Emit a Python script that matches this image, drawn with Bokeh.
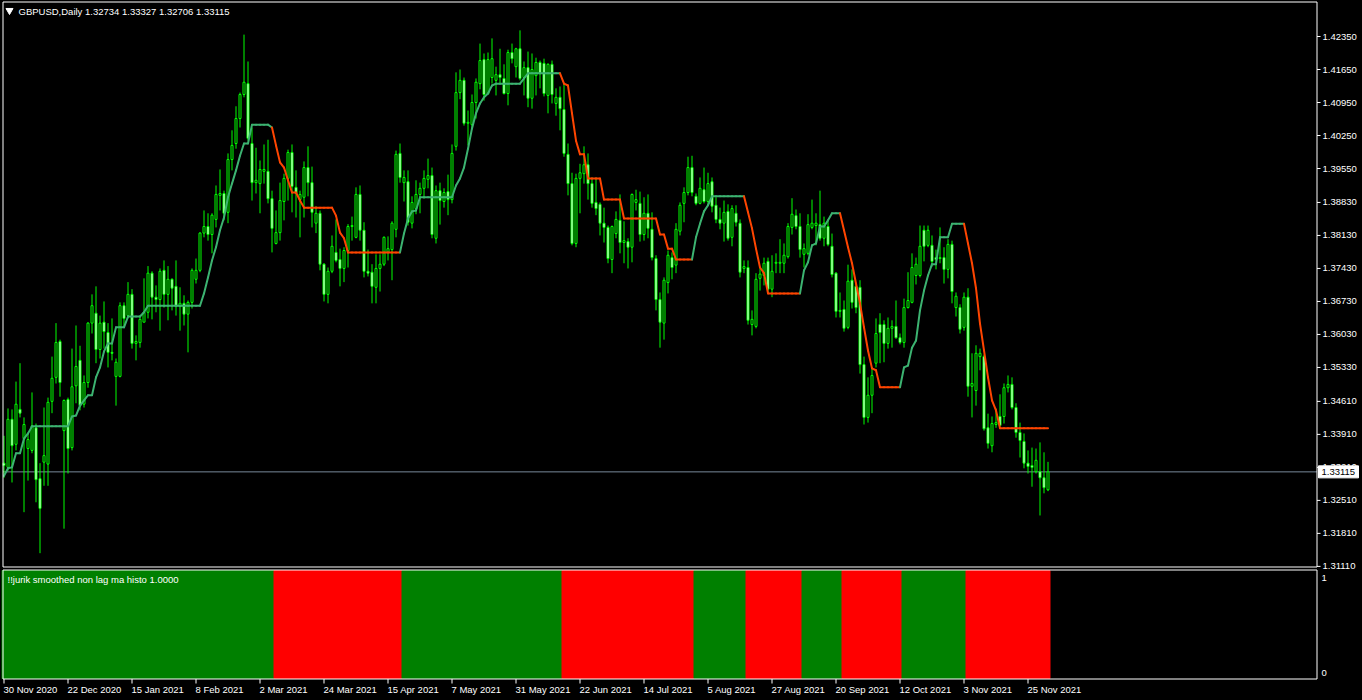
from bokeh.plotting import figure
from bokeh.models import Range1d, ColumnDataSource, GlobalInlineStyleSheet
from bokeh.core.properties import value
from bokeh.embed import file_html
from bokeh.resources import INLINE

# ---------------- data ----------------
SYMBOL = "GBPUSD"
TIMEFRAME = "Daily"
INDICATOR_NAME = "!!jurik smoothed non lag ma histo 1.0000"

OPEN = [
    1.3330, 1.3321, 1.3423, 1.3370, 1.3444, 1.3382, 1.3361, 1.3357, 1.3405, 1.3297,
    1.3332, 1.3328, 1.3461, 1.3512, 1.3588, 1.3399, 1.3465, 1.3363, 1.3494, 1.3548,
    1.3455, 1.3501, 1.3627, 1.3648, 1.3571, 1.3629, 1.3607, 1.3565, 1.3514, 1.3514,
    1.3664, 1.3643, 1.3688, 1.3584, 1.3586, 1.3629, 1.3650, 1.3733, 1.3682, 1.3677,
    1.3739, 1.3688, 1.3720, 1.3705, 1.3662, 1.3669, 1.3646, 1.3671, 1.3720, 1.3739,
    1.3818, 1.3832, 1.3815, 1.3847, 1.3898, 1.3902, 1.3862, 1.3974, 1.4008, 1.4061,
    1.4112, 1.4135, 1.4008, 1.3925, 1.3923, 1.3949, 1.3949, 1.3891, 1.3796, 1.3819,
    1.3885, 1.3934, 1.3989, 1.3915, 1.3889, 1.3894, 1.3957, 1.3925, 1.3839, 1.3860,
    1.3752, 1.3688, 1.3737, 1.3777, 1.3762, 1.3743, 1.3781, 1.3832, 1.3809, 1.3900,
    1.3824, 1.3737, 1.3735, 1.3703, 1.3743, 1.3752, 1.3777, 1.3783, 1.3826, 1.3987,
    1.3925, 1.3927, 1.3839, 1.3870, 1.3900, 1.3913, 1.3932, 1.3940, 1.3807, 1.3908,
    1.3885, 1.3906, 1.3889, 1.4002, 1.4116, 1.4142, 1.4051, 1.4048, 1.4095, 1.4135,
    1.4186, 1.4114, 1.4148, 1.4142, 1.4154, 1.4146, 1.4114, 1.4201, 1.4171, 1.4209,
    1.4148, 1.4169, 1.4104, 1.4152, 1.4180, 1.4178, 1.4110, 1.4176, 1.4093, 1.4106,
    1.4080, 1.3985, 1.3923, 1.3796, 1.3934, 1.3944, 1.3963, 1.3923, 1.3883, 1.3879,
    1.3839, 1.3830, 1.3762, 1.3817, 1.3845, 1.3798, 1.3800, 1.3788, 1.3883, 1.3881,
    1.3815, 1.3860, 1.3826, 1.3764, 1.3677, 1.3627, 1.3713, 1.3766, 1.3750, 1.3822,
    1.3881, 1.3904, 1.3957, 1.3896, 1.3881, 1.3910, 1.3885, 1.3927, 1.3877, 1.3847,
    1.3839, 1.3864, 1.3809, 1.3860, 1.3839, 1.3743, 1.3745, 1.3624, 1.3620, 1.3722,
    1.3728, 1.3758, 1.3699, 1.3754, 1.3754, 1.3754, 1.3768, 1.3830, 1.3855, 1.3832,
    1.3773, 1.3775, 1.3830, 1.3834, 1.3836, 1.3807, 1.3832, 1.3790, 1.3733, 1.3652,
    1.3656, 1.3618, 1.3718, 1.3705, 1.3703, 1.3539, 1.3427, 1.3474, 1.3542, 1.3624,
    1.3624, 1.3584, 1.3616, 1.3620, 1.3596, 1.3586, 1.3660, 1.3671, 1.3728, 1.3728,
    1.3824, 1.3792, 1.3792, 1.3766, 1.3764, 1.3766, 1.3741, 1.3794, 1.3660, 1.3660,
    1.3618, 1.3682, 1.3493, 1.3484, 1.3556, 1.3556, 1.3405, 1.3367, 1.3412, 1.3429,
    1.3429, 1.3490, 1.3497, 1.3448, 1.3395, 1.3376, 1.3330, 1.3325, 1.3312, 1.3312,
    1.3299, 1.32734,
]

HIGH = [
    1.3388, 1.3446, 1.3444, 1.3503, 1.3542, 1.3427, 1.3393, 1.3480, 1.3414, 1.3330,
    1.3448, 1.3469, 1.3556, 1.3627, 1.3592, 1.3465, 1.3469, 1.3573, 1.3622, 1.3579,
    1.3516, 1.3629, 1.3688, 1.3705, 1.3643, 1.3673, 1.3627, 1.3637, 1.3552, 1.3671,
    1.3671, 1.3714, 1.3699, 1.3601, 1.3643, 1.3722, 1.3748, 1.3737, 1.3707, 1.3743,
    1.3760, 1.3748, 1.3722, 1.3760, 1.3703, 1.3686, 1.3675, 1.3743, 1.3764, 1.3820,
    1.3866, 1.3860, 1.3860, 1.3919, 1.3953, 1.3908, 1.3987, 1.4036, 1.4087, 1.4116,
    1.4239, 1.4182, 1.4042, 1.3999, 1.3972, 1.4006, 1.4016, 1.3908, 1.3866, 1.3925,
    1.3944, 1.3995, 1.4006, 1.3951, 1.3908, 1.3970, 1.4002, 1.3959, 1.3875, 1.3866,
    1.3754, 1.3745, 1.3813, 1.3847, 1.3785, 1.3788, 1.3837, 1.3853, 1.3915, 1.3919,
    1.3841, 1.3783, 1.3752, 1.3773, 1.3773, 1.3811, 1.3811, 1.3843, 1.3993, 1.4008,
    1.3951, 1.3951, 1.3896, 1.3930, 1.3925, 1.3951, 1.3976, 1.3957, 1.3919, 1.3925,
    1.3913, 1.3942, 1.4006, 1.4159, 1.4165, 1.4148, 1.4078, 1.4112, 1.4146, 1.4220,
    1.4199, 1.4201, 1.4231, 1.4171, 1.4209, 1.4176, 1.4207, 1.4220, 1.4211, 1.4248,
    1.4182, 1.4203, 1.4199, 1.4190, 1.4184, 1.4188, 1.4178, 1.4184, 1.4125, 1.4129,
    1.4135, 1.4008, 1.3946, 1.3944, 1.3965, 1.4002, 1.3987, 1.3936, 1.3936, 1.3883,
    1.3872, 1.3834, 1.3834, 1.3864, 1.3900, 1.3843, 1.3807, 1.3902, 1.3910, 1.3906,
    1.3894, 1.3900, 1.3862, 1.3771, 1.3692, 1.3724, 1.3781, 1.3777, 1.3839, 1.3883,
    1.3915, 1.3980, 1.3982, 1.3902, 1.3936, 1.3957, 1.3946, 1.3936, 1.3894, 1.3872,
    1.3887, 1.3879, 1.3877, 1.3877, 1.3847, 1.3760, 1.3760, 1.3654, 1.3733, 1.3743,
    1.3766, 1.3766, 1.3771, 1.3775, 1.3805, 1.3796, 1.3839, 1.3892, 1.3868, 1.3860,
    1.3796, 1.3858, 1.3889, 1.3860, 1.3908, 1.3853, 1.3843, 1.3817, 1.3735, 1.3692,
    1.3675, 1.3751, 1.3741, 1.3711, 1.3718, 1.3556, 1.3512, 1.3533, 1.3637, 1.3648,
    1.3633, 1.3639, 1.3633, 1.3675, 1.3605, 1.3679, 1.3735, 1.3775, 1.3766, 1.3834,
    1.3834, 1.3834, 1.3813, 1.3783, 1.3830, 1.3788, 1.3805, 1.3802, 1.3692, 1.3667,
    1.3692, 1.3701, 1.3563, 1.3580, 1.3573, 1.3560, 1.3435, 1.3429, 1.3446, 1.3476,
    1.3499, 1.3516, 1.3512, 1.3457, 1.3416, 1.3393, 1.3357, 1.3363, 1.3361, 1.3374,
    1.3353, 1.33327,
]

LOW = [
    1.3299, 1.3314, 1.3289, 1.3357, 1.3427, 1.3226, 1.3293, 1.3351, 1.3247, 1.3139,
    1.3282, 1.3282, 1.3436, 1.3499, 1.3471, 1.3191, 1.3308, 1.3357, 1.3457, 1.3442,
    1.3448, 1.3490, 1.3605, 1.3542, 1.3552, 1.3573, 1.3533, 1.3548, 1.3452, 1.3512,
    1.3618, 1.3637, 1.3573, 1.3548, 1.3575, 1.3629, 1.3637, 1.3635, 1.3650, 1.3611,
    1.3660, 1.3633, 1.3654, 1.3643, 1.3611, 1.3622, 1.3565, 1.3658, 1.3711, 1.3735,
    1.3809, 1.3802, 1.3775, 1.3830, 1.3866, 1.3845, 1.3839, 1.3951, 1.3997, 1.4042,
    1.4106, 1.4014, 1.3887, 1.3902, 1.3860, 1.3923, 1.3881, 1.3777, 1.3794, 1.3802,
    1.3845, 1.3887, 1.3862, 1.3851, 1.3809, 1.3851, 1.3896, 1.3830, 1.3818, 1.3739,
    1.3673, 1.3669, 1.3733, 1.3756, 1.3705, 1.3714, 1.3745, 1.3802, 1.3807, 1.3802,
    1.3724, 1.3726, 1.3669, 1.3669, 1.3694, 1.3748, 1.3760, 1.3718, 1.3809, 1.3925,
    1.3885, 1.3834, 1.3828, 1.3858, 1.3860, 1.3891, 1.3913, 1.3807, 1.3796, 1.3836,
    1.3872, 1.3856, 1.3881, 1.3993, 1.4102, 1.4046, 1.4004, 1.4040, 1.4061, 1.4123,
    1.4099, 1.4112, 1.4135, 1.4110, 1.4135, 1.4112, 1.4089, 1.4178, 1.4148, 1.4142,
    1.4110, 1.4085, 1.4082, 1.4110, 1.4125, 1.4108, 1.4072, 1.4093, 1.4067, 1.4036,
    1.3980, 1.3898, 1.3792, 1.3788, 1.3860, 1.3923, 1.3889, 1.3872, 1.3856, 1.3813,
    1.3798, 1.3754, 1.3733, 1.3807, 1.3775, 1.3754, 1.3743, 1.3756, 1.3866, 1.3800,
    1.3802, 1.3807, 1.3760, 1.3654, 1.3575, 1.3592, 1.3690, 1.3720, 1.3733, 1.3813,
    1.3841, 1.3898, 1.3896, 1.3877, 1.3879, 1.3881, 1.3877, 1.3862, 1.3839, 1.3826,
    1.3800, 1.3802, 1.3790, 1.3832, 1.3724, 1.3733, 1.3624, 1.3601, 1.3616, 1.3696,
    1.3707, 1.3690, 1.3682, 1.3733, 1.3733, 1.3733, 1.3764, 1.3815, 1.3826, 1.3766,
    1.3745, 1.3771, 1.3826, 1.3792, 1.3802, 1.3790, 1.3790, 1.3724, 1.3639, 1.3639,
    1.3609, 1.3614, 1.3658, 1.3648, 1.3520, 1.3412, 1.3416, 1.3436, 1.3533, 1.3542,
    1.3544, 1.3573, 1.3575, 1.3594, 1.3582, 1.3575, 1.3658, 1.3669, 1.3709, 1.3724,
    1.3758, 1.3788, 1.3747, 1.3741, 1.3754, 1.3711, 1.3722, 1.3669, 1.3641, 1.3605,
    1.3611, 1.3471, 1.3427, 1.3452, 1.3527, 1.3399, 1.3361, 1.3353, 1.3405, 1.3408,
    1.3414, 1.3480, 1.3444, 1.3384, 1.3342, 1.3319, 1.3308, 1.3280, 1.3308, 1.3219,
    1.3266, 1.32706,
]

CLOSE = [
    1.3325, 1.3423, 1.3367, 1.3455, 1.3436, 1.3412, 1.3380, 1.3409, 1.3295, 1.3234,
    1.3346, 1.3459, 1.3510, 1.3586, 1.3501, 1.3463, 1.3361, 1.3492, 1.3535, 1.3452,
    1.3501, 1.3627, 1.3664, 1.3571, 1.3627, 1.3609, 1.3565, 1.3563, 1.3544, 1.3664,
    1.3637, 1.3688, 1.3584, 1.3588, 1.3635, 1.3650, 1.3733, 1.3682, 1.3677, 1.3737,
    1.3688, 1.3720, 1.3701, 1.3662, 1.3669, 1.3646, 1.3671, 1.3739, 1.3739, 1.3818,
    1.3832, 1.3815, 1.3856, 1.3900, 1.3902, 1.3860, 1.3974, 1.4004, 1.4061, 1.4112,
    1.4138, 1.4019, 1.3925, 1.3930, 1.3953, 1.3953, 1.3891, 1.3828, 1.3819, 1.3887,
    1.3934, 1.3989, 1.3917, 1.3902, 1.3900, 1.3957, 1.3925, 1.3862, 1.3860, 1.3752,
    1.3688, 1.3737, 1.3790, 1.3760, 1.3743, 1.3781, 1.3832, 1.3834, 1.3900, 1.3824,
    1.3737, 1.3733, 1.3705, 1.3743, 1.3752, 1.3809, 1.3785, 1.3839, 1.3985, 1.3936,
    1.3936, 1.3841, 1.3883, 1.3900, 1.3913, 1.3934, 1.3940, 1.3815, 1.3908, 1.3887,
    1.3904, 1.3889, 1.3987, 1.4116, 1.4142, 1.4051, 1.4053, 1.4095, 1.4138, 1.4184,
    1.4112, 1.4186, 1.4188, 1.4154, 1.4148, 1.4114, 1.4201, 1.4188, 1.4209, 1.4146,
    1.4169, 1.4104, 1.4165, 1.4180, 1.4156, 1.4114, 1.4176, 1.4112, 1.4106, 1.4082,
    1.3987, 1.3923, 1.3796, 1.3934, 1.3946, 1.3963, 1.3923, 1.3881, 1.3870, 1.3839,
    1.3830, 1.3764, 1.3832, 1.3847, 1.3798, 1.3802, 1.3788, 1.3900, 1.3889, 1.3815,
    1.3860, 1.3828, 1.3766, 1.3677, 1.3629, 1.3718, 1.3771, 1.3745, 1.3826, 1.3877,
    1.3904, 1.3957, 1.3904, 1.3881, 1.3913, 1.3885, 1.3923, 1.3875, 1.3847, 1.3839,
    1.3862, 1.3807, 1.3870, 1.3841, 1.3735, 1.3747, 1.3633, 1.3635, 1.3720, 1.3731,
    1.3754, 1.3699, 1.3737, 1.3756, 1.3756, 1.3771, 1.3832, 1.3858, 1.3832, 1.3783,
    1.3785, 1.3836, 1.3839, 1.3839, 1.3807, 1.3839, 1.3794, 1.3730, 1.3652, 1.3654,
    1.3616, 1.3716, 1.3671, 1.3660, 1.3539, 1.3427, 1.3474, 1.3516, 1.3605, 1.3607,
    1.3584, 1.3616, 1.3620, 1.3596, 1.3586, 1.3660, 1.3675, 1.3745, 1.3752, 1.3790,
    1.3790, 1.3824, 1.3758, 1.3762, 1.3766, 1.3741, 1.3794, 1.3694, 1.3684, 1.3614,
    1.3682, 1.3493, 1.3499, 1.3563, 1.3563, 1.3403, 1.3372, 1.3414, 1.3416, 1.3410,
    1.3490, 1.3497, 1.3448, 1.3395, 1.3378, 1.3330, 1.3323, 1.3321, 1.3336, 1.3299,
    1.3278, 1.33115,
]

# Jurik smoothed non-lag MA (step line on the price chart)
JURIK_MA = [
    1.3303, 1.3319, 1.3321, 1.3351, 1.3351, 1.3382, 1.3393, 1.3408, 1.3408, 1.3408,
    1.3408, 1.3408, 1.3408, 1.3408, 1.3408, 1.3408, 1.3408, 1.3429, 1.3431, 1.3452,
    1.3463, 1.3474, 1.3474, 1.3512, 1.3533, 1.3567, 1.3584, 1.3584, 1.3618, 1.3618,
    1.3618, 1.3641, 1.3641, 1.3641, 1.3641, 1.3650, 1.3664, 1.3664, 1.3664, 1.3664,
    1.3664, 1.3664, 1.3664, 1.3664, 1.3664, 1.3664, 1.3664, 1.3664, 1.3664, 1.3664,
    1.3690, 1.3724, 1.3760, 1.3788, 1.3824, 1.3851, 1.3894, 1.3923, 1.3951, 1.3982,
    1.4008, 1.4008, 1.4048, 1.4048, 1.4048, 1.4048, 1.4048, 1.4042, 1.4004, 1.3968,
    1.3957, 1.3930, 1.3904, 1.3904, 1.3887, 1.3872, 1.3872, 1.3872, 1.3872, 1.3872,
    1.3872, 1.3872, 1.3872, 1.3855, 1.3819, 1.3807, 1.3777, 1.3777, 1.3777, 1.3777,
    1.3777, 1.3777, 1.3777, 1.3777, 1.3777, 1.3777, 1.3777, 1.3777, 1.3777, 1.3777,
    1.3817, 1.3849, 1.3864, 1.3866, 1.3894, 1.3894, 1.3894, 1.3894, 1.3894, 1.3894,
    1.3894, 1.3894, 1.3894, 1.3919, 1.3934, 1.3957, 1.3997, 1.4040, 1.4072, 1.4093,
    1.4106, 1.4114, 1.4131, 1.4135, 1.4135, 1.4135, 1.4135, 1.4135, 1.4135, 1.4135,
    1.4146, 1.4157, 1.4157, 1.4157, 1.4157, 1.4157, 1.4157, 1.4157, 1.4157, 1.4157,
    1.4135, 1.4131, 1.4072, 1.4014, 1.3985, 1.3985, 1.3934, 1.3934, 1.3934, 1.3934,
    1.3889, 1.3889, 1.3889, 1.3889, 1.3889, 1.3849, 1.3849, 1.3849, 1.3849, 1.3849,
    1.3849, 1.3849, 1.3849, 1.3849, 1.3815, 1.3815, 1.3785, 1.3785, 1.3762, 1.3762,
    1.3762, 1.3762, 1.3762, 1.3809, 1.3838, 1.3864, 1.3877, 1.3896, 1.3896, 1.3896,
    1.3896, 1.3896, 1.3896, 1.3896, 1.3896, 1.3896, 1.3862, 1.3828, 1.3785, 1.3745,
    1.3733, 1.3690, 1.3690, 1.3690, 1.3690, 1.3690, 1.3690, 1.3690, 1.3690, 1.3690,
    1.3739, 1.3756, 1.3792, 1.3796, 1.3832, 1.3832, 1.3845, 1.3860, 1.3860, 1.3860,
    1.3824, 1.3788, 1.3754, 1.3711, 1.3669, 1.3618, 1.3569, 1.3531, 1.3527, 1.3491,
    1.3491, 1.3491, 1.3491, 1.3491, 1.3491, 1.3533, 1.3537, 1.3575, 1.3590, 1.3654,
    1.3696, 1.3728, 1.3752, 1.3752, 1.3809, 1.3809, 1.3809, 1.3838, 1.3838, 1.3838,
    1.3838, 1.3796, 1.3754, 1.3701, 1.3626, 1.3569, 1.3512, 1.3463, 1.3442, 1.3404,
    1.3404, 1.3404, 1.3404, 1.3404, 1.3404, 1.3404, 1.3404, 1.3404, 1.3404, 1.3404,
    1.3404, 1.3404,
]

# histogram state (1 = up / green, -1 = down / red) as runs of bars
TREND_RUNS = [(1, 68), (-1, 32), (1, 40), (-1, 33), (1, 13),
              (-1, 14), (1, 10), (-1, 15), (1, 16), (-1, 21)]
HIST_VALUE = 1.0
HIST_SCALE = [1, 0]

DATE_TICK_BARS = [0, 16, 32, 48, 64, 80, 96, 112, 128, 144, 160, 176, 192, 208, 224, 240, 256]
DATE_LABELS = ["30 Nov 2020", "22 Dec 2020", "15 Jan 2021", "8 Feb 2021", "2 Mar 2021",
               "24 Mar 2021", "15 Apr 2021", "7 May 2021", "31 May 2021", "22 Jun 2021",
               "14 Jul 2021", "5 Aug 2021", "27 Aug 2021", "20 Sep 2021", "12 Oct 2021",
               "3 Nov 2021", "25 Nov 2021"]
PRICE_TICKS = [1.31110, 1.31810, 1.32510, 1.33210, 1.33910, 1.34610, 1.35330, 1.36030,
               1.36730, 1.37430, 1.38130, 1.38830, 1.39550, 1.40250, 1.40950, 1.41650, 1.42350]

# ---------------- layout (page pixels) ----------------
W, H = 1360, 698
BAR_PX = 4.0
BAR0_PX = 3.5            # page x of the first bar centre
PX_PER_PRICE = 4714.3
PRICE_ANCHOR, PRICE_ANCHOR_PX = 1.4235, 36.0
HIST_ONE_PX, HIST_ZERO_PX = 570.0, 678.0

XL = -BAR0_PX / BAR_PX
XR = XL + W / BAR_PX
YT = PRICE_ANCHOR + PRICE_ANCHOR_PX / PX_PER_PRICE
YB = YT - H / PX_PER_PRICE
H_PX = HIST_ZERO_PX - HIST_ONE_PX
HT = 1.0 + HIST_ONE_PX / H_PX
HB = HT - H / H_PX

MAIN_L, MAIN_R, MAIN_T, MAIN_B = 2.5, 1316.5, 1.5, 566.5
HIST_T, HIST_B = 569.5, 678.5

FONT = value("Liberation Sans")
FS = "9.5px"
TXT = "#FFFFFF"
CANDLE = "#00FF00"
MA_UP, MA_DN = "#3CB371", "#FF4500"
H_UP, H_DN = "#008000", "#FF0000"


def X(px):
    return XL + px / BAR_PX


def Y(py):
    return YT - py / PX_PER_PRICE


trend = []
for state, count in TREND_RUNS:
    trend.extend([state] * count)

n = min(len(OPEN), len(HIGH), len(LOW), len(CLOSE), len(JURIK_MA), len(trend))
idx = list(range(n))

p = figure(width=W, height=H, x_range=Range1d(XL, XR), y_range=Range1d(YB, YT),
           x_axis_location=None, y_axis_location=None, toolbar_location=None,
           output_backend="svg", min_border=0,
           background_fill_color="black", border_fill_color="black",
           outline_line_color=None)
p.extra_y_ranges = {"hist": Range1d(HB, HT)}
p.grid.visible = False

# ---------- histogram panel ----------
hcolors = [H_UP if trend[i] > 0 else H_DN for i in idx]
p.vbar(x=idx, width=1.0, top=HIST_VALUE, bottom=0.0, y_range_name="hist",
       fill_color=hcolors, line_color=hcolors, line_width=1)

# ---------- bid line ----------
last = n - 1
p.segment(x0=[X(MAIN_L)], x1=[X(MAIN_R)], y0=[CLOSE[last]], y1=[CLOSE[last]],
          line_color="#778899", line_width=1)

# ---------- candles ----------
src = ColumnDataSource(dict(
    x=idx,
    high=HIGH[:n], low=LOW[:n],
    top=[max(OPEN[i], CLOSE[i]) for i in idx],
    bottom=[min(OPEN[i], CLOSE[i]) for i in idx],
    fill=["#000000" if CLOSE[i] >= OPEN[i] else "#FFFFFF" for i in idx],
))
p.segment(x0="x", y0="low", x1="x", y1="high", source=src,
          line_color=CANDLE, line_width=1)
p.vbar(x="x", width=0.5, top="top", bottom="bottom", source=src,
       fill_color="fill", line_color=CANDLE, line_width=1)

# ---------- Jurik MA step line ----------
ma_src = ColumnDataSource(dict(
    x0=idx[:-1], x1=idx[1:],
    y0=JURIK_MA[:n - 1], y1=JURIK_MA[1:n],
    color=[MA_UP if trend[i] > 0 else MA_DN for i in idx[1:]],
))
p.segment(x0="x0", y0="y0", x1="x1", y1="y1", source=ma_src,
          line_color="color", line_width=2, line_cap="round")

# ---------- panel frames ----------
p.quad(left=[X(MAIN_L)], right=[X(MAIN_R)], top=[Y(MAIN_T)], bottom=[Y(MAIN_B)],
       fill_color=None, line_color="white", line_width=1)
p.quad(left=[X(MAIN_L)], right=[X(MAIN_R)], top=[Y(HIST_T)], bottom=[Y(HIST_B)],
       fill_color=None, line_color="white", line_width=1)

# ---------- price scale (right) ----------
p.segment(x0=[X(MAIN_R)] * len(PRICE_TICKS), x1=[X(MAIN_R + 3.5)] * len(PRICE_TICKS),
          y0=PRICE_TICKS, y1=PRICE_TICKS, line_color=TXT, line_width=1)
p.text(x=[X(1322)] * len(PRICE_TICKS), y=PRICE_TICKS,
       text=["%.5f" % t for t in PRICE_TICKS],
       text_color=TXT, text_font=FONT, text_font_size=FS,
       text_align="left", text_baseline="middle")

# current price tag
tag_half = 6.0 / PX_PER_PRICE
p.quad(left=[X(1318)], right=[X(1358)], top=[CLOSE[last] + tag_half],
       bottom=[CLOSE[last] - tag_half], fill_color="white", line_color="white")
p.text(x=[X(1321)], y=[CLOSE[last]], text=["%.5f" % CLOSE[last]],
       text_color="black", text_font=FONT, text_font_size=FS,
       text_align="left", text_baseline="middle")

# histogram scale labels
p.text(x=[X(1321)] * 2, y=HIST_SCALE, y_range_name="hist",
       y_offset=[7, -6], text=["%d" % v for v in HIST_SCALE],
       text_color=TXT, text_font=FONT, text_font_size=FS,
       text_align="left", text_baseline="middle")

# ---------- time scale (bottom) ----------
p.segment(x0=DATE_TICK_BARS, x1=DATE_TICK_BARS,
          y0=[Y(HIST_B)] * len(DATE_TICK_BARS), y1=[Y(HIST_B + 4.5)] * len(DATE_TICK_BARS),
          line_color=TXT, line_width=1)
p.text(x=[b - 0.125 for b in DATE_TICK_BARS], y=[Y(689)] * len(DATE_TICK_BARS),
       text=DATE_LABELS, text_color=TXT, text_font=FONT, text_font_size=FS,
       text_align="left", text_baseline="middle")

# ---------- titles ----------
header = "%s,%s  %.5f %.5f %.5f %.5f" % (SYMBOL, TIMEFRAME, OPEN[last], HIGH[last],
                                          LOW[last], CLOSE[last])
p.scatter(x=[X(9)], y=[Y(10)], marker="inverted_triangle", size=7,
          fill_color=TXT, line_color=TXT)
p.text(x=[X(18)], y=[Y(10.5)], text=[header], text_color=TXT, text_font=FONT,
       text_font_size=FS, text_align="left", text_baseline="middle")
p.text(x=[X(7)], y=[Y(579)], text=[INDICATOR_NAME], text_color=TXT, text_font=FONT,
       text_font_size=FS, text_align="left", text_baseline="middle")

p.stylesheets = [GlobalInlineStyleSheet(css="body { background-color: #000000; }")]

open("out.html", "w").write(file_html(p, INLINE))
